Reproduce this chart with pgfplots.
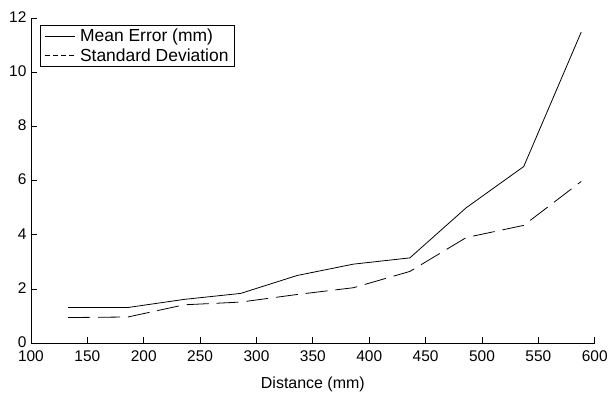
\documentclass[border=0pt]{standalone}
\usepackage{fontspec}
\setmainfont{Liberation Sans}
\usepackage{pgfplots}
\pgfplotsset{compat=1.18}
\begin{document}
\begin{tikzpicture}[x=1pt,y=1pt]
\begin{axis}[
  scale only axis,
  width=565pt, height=326pt,
  xmin=100, xmax=600, ymin=0, ymax=12,
  xtick={100,150,...,600}, ytick={0,2,...,12},
  axis lines*=left,
  tick align=inside,
  major tick length=6pt,
  axis line style={line width=0.8pt},
  every tick/.style={black, line width=0.8pt},
  /pgf/number format/assume math mode=true,
  tick label style={font=\fontsize{15.5}{16}\selectfont},
  xticklabel style={yshift=-4pt},
  yticklabel style={xshift=-1pt, yshift=1pt},
  xlabel={Distance (mm)},
  xlabel style={font=\fontsize{16}{17}\selectfont, at={(rel axis cs:0.5,0)}, anchor=center, yshift=-41pt},
  legend style={at={(rel axis cs:0,1)}, xshift=9pt, yshift=-7pt, anchor=north west, draw=black, line width=0.8pt,
    font=\fontsize{17.5}{18}\selectfont, inner xsep=4pt, inner ysep=2pt, row sep=1pt, column sep=3pt, cells={anchor=west}},
  legend cell align=left,
  legend image code/.code={\draw[#1, line width=0.8pt] (0pt,0pt) -- (30pt,0pt);},
]
\addplot[black, line width=0.8pt] coordinates {
  (133,1.32) (186,1.32) (236,1.62) (286,1.84) (336,2.5) (386,2.92) (436,3.15) (486,5.0) (537,6.52) (588,11.48)
};
\addlegendentry{Mean Error (mm)}
\addplot[black, line width=0.8pt, dash pattern=on 22pt off 8pt, legend image post style={dash pattern=on 5pt off 3pt}] coordinates {
  (133,0.95) (186,0.97) (236,1.42) (286,1.52) (336,1.8) (386,2.05) (436,2.65) (486,3.9) (537,4.35) (588,5.97)
};
\addlegendentry{Standard Deviation}
\end{axis}
\path (current axis.south west) ++(-31pt,-52pt);
\path (current axis.north east) ++(15pt,18pt);
\end{tikzpicture}
\end{document}
